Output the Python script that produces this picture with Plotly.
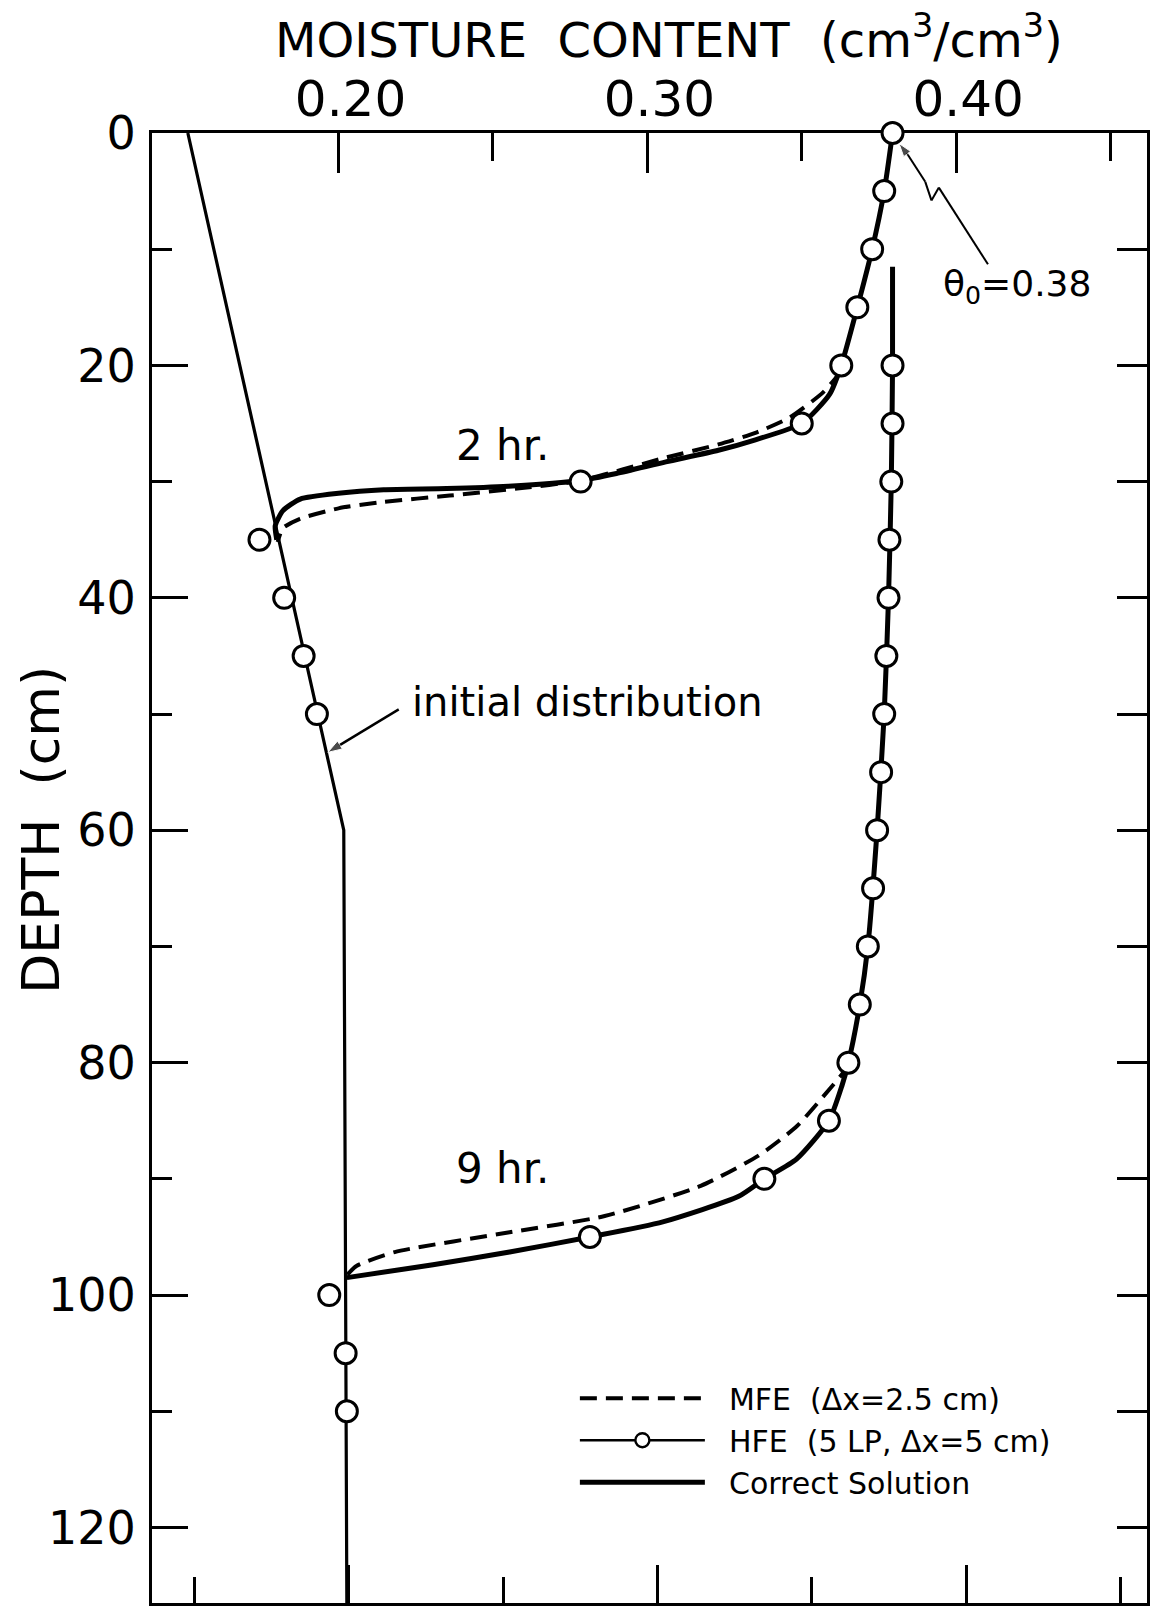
import plotly.graph_objects as go

# ---------------- data ----------------
# initial distribution
init_theta = [0.1512, 0.2017, 0.2027]
init_depth = [0, 60, 127]

# 2 hr - correct solution
ok2_theta = [0.3794, 0.3767, 0.3728, 0.3680, 0.3628, 0.3590, 0.3500, 0.3350, 0.3230,
             0.3060, 0.2900, 0.2784, 0.2550, 0.2350, 0.2146, 0.2000, 0.1876, 0.1820,
             0.1795, 0.1800]
ok2_depth = [0, 5, 10, 15, 20, 22.5, 25, 26.4, 27.3, 28.3, 29.3, 29.9, 30.4, 30.6,
             30.7, 31.0, 31.5, 32.5, 33.8, 35.0]

# 2 hr - MFE
mfe2_theta = [0.3628, 0.3570, 0.3460, 0.3350, 0.3230, 0.3050, 0.2784, 0.2578, 0.2360,
              0.2145, 0.2000, 0.1875, 0.1820, 0.1803]
mfe2_depth = [20.5, 22.3, 24.5, 25.8, 26.8, 28.0, 29.9, 30.6, 31.2, 31.75, 32.3, 33.2,
              34.0, 35.2]

# 2 hr - HFE nodes
hfe2_theta = [0.3794, 0.3767, 0.3728, 0.3680, 0.3628, 0.3500, 0.2784, 0.1744, 0.1824,
              0.1887, 0.1930]
hfe2_depth = [0, 5, 10, 15, 20, 25, 30, 35, 40, 45, 50]

# 9 hr - correct solution
ok9_theta = [0.3794, 0.3794, 0.3790, 0.3781, 0.3767, 0.3744, 0.3714, 0.3688, 0.3651,
             0.3630, 0.3588, 0.3483, 0.3379, 0.3296, 0.3050, 0.2814, 0.2554, 0.2306,
             0.2027]
ok9_depth = [11.5, 20, 30, 40, 50, 60, 70, 75, 80, 82, 85, 88.3, 90, 91.5, 93.7, 95,
             96.3, 97.4, 98.5]

# 9 hr - MFE
mfe9_theta = [0.3651, 0.3633, 0.3570, 0.3483, 0.3360, 0.3173, 0.2862, 0.2554, 0.2182,
              0.2058, 0.2027]
mfe9_depth = [80.0, 80.9, 82.9, 85.5, 88.0, 90.6, 93.2, 94.6, 96.3, 97.5, 98.3]

# 9 hr - HFE nodes
hfe9_theta = [0.3794, 0.3794, 0.3790, 0.3784, 0.3781, 0.3774, 0.3767, 0.3757, 0.3744,
              0.3731, 0.3714, 0.3688, 0.3651, 0.3588, 0.3379, 0.2814, 0.1970, 0.2023,
              0.2027]
hfe9_depth = [20, 25, 30, 35, 40, 45, 50, 55, 60, 65, 70, 75, 80, 85, 90, 95, 100, 105,
              110]

# leader line of the theta_0 label (ends in an arrow at the surface value)
leader_theta = [0.4103, 0.3944, 0.3920, 0.3900, 0.3844, 0.3815]
leader_depth = [11.3, 4.7, 5.8, 4.2, 1.9, 0.9]

# pointer of the "initial distribution" label
pointer_theta = [0.2195, 0.1965]
pointer_depth = [49.6, 53.3]

# axes
x_range = [0.1396, 0.4618]
y_range = [126.5, 0]
x_major = [0.20, 0.30, 0.40]
x_major_text = ["0.20", "0.30", "0.40"]
x_minor_top = [0.25, 0.35, 0.45]
x_major_bottom = [0.2033, 0.3033, 0.4033]
x_minor_bottom = [0.1533, 0.2533, 0.3533, 0.4533]
y_major = [0, 20, 40, 60, 80, 100, 120]
y_major_text = ["0", "20", "40", "60", "80", "100", "120"]
y_minor = [10, 30, 50, 70, 90, 110]
y_right = [10, 20, 30, 40, 50, 60, 70, 80, 90, 100, 110, 120]

FONT = "DejaVu Sans"
BLACK = "black"
NB = "\u00a0"

fig = go.Figure()

# initial distribution
fig.add_trace(go.Scatter(x=init_theta, y=init_depth, mode="lines",
                         line=dict(color=BLACK, width=3.2), showlegend=False,
                         hoverinfo="skip"))

# correct solutions
fig.add_trace(go.Scatter(x=ok2_theta, y=ok2_depth, mode="lines",
                         name=NB * 2 + "Correct Solution",
                         line=dict(color=BLACK, width=5, shape="spline", smoothing=0.6),
                         legendgroup="ok", legendrank=3, showlegend=True))
fig.add_trace(go.Scatter(x=ok9_theta, y=ok9_depth, mode="lines", name="Correct Solution",
                         line=dict(color=BLACK, width=5, shape="spline", smoothing=0.6),
                         legendgroup="ok", showlegend=False))

# MFE
dash_style = dict(color=BLACK, width=4, dash="17px,9px", shape="spline", smoothing=0.6)
fig.add_trace(go.Scatter(x=mfe2_theta, y=mfe2_depth, mode="lines",
                         name=NB * 2 + "MFE" + NB * 2 + "(\u0394x=2.5" + NB + "cm)",
                         line=dash_style, legendgroup="mfe", legendrank=1,
                         showlegend=True))
fig.add_trace(go.Scatter(x=mfe9_theta, y=mfe9_depth, mode="lines", name="MFE",
                         line=dash_style, legendgroup="mfe", showlegend=False))

# leader line for theta_0 and pointer for the initial distribution label
fig.add_trace(go.Scatter(x=leader_theta, y=leader_depth, mode="lines+markers",
                         line=dict(color=BLACK, width=2),
                         marker=dict(symbol="arrow", angleref="previous", color=BLACK,
                                     size=[0, 0, 0, 0, 0, 14]),
                         showlegend=False, hoverinfo="skip", cliponaxis=False))
fig.add_trace(go.Scatter(x=pointer_theta, y=pointer_depth, mode="lines+markers",
                         line=dict(color=BLACK, width=2.4),
                         marker=dict(symbol="arrow", angleref="previous", color=BLACK,
                                     size=[0, 15]),
                         showlegend=False, hoverinfo="skip"))

# HFE nodes (drawn on the overlaid top/right axes, which share the same ranges)
marker_style = dict(symbol="circle", size=21, color="white",
                    line=dict(color=BLACK, width=3))
fig.add_trace(go.Scatter(x=hfe2_theta, y=hfe2_depth, mode="markers", name="HFE",
                         marker=marker_style, legendgroup="hfe", showlegend=False,
                         cliponaxis=False, xaxis="x2", yaxis="y2"))
fig.add_trace(go.Scatter(x=hfe9_theta, y=hfe9_depth, mode="markers", name="HFE",
                         marker=marker_style, legendgroup="hfe", showlegend=False,
                         cliponaxis=False, xaxis="x2", yaxis="y2"))
# legend entry for HFE (line with circles)
fig.add_trace(go.Scatter(x=[None], y=[None], mode="lines+markers",
                         name=NB * 2 + "HFE" + NB * 2 + "(5" + NB + "LP," + NB +
                         "\u0394x=5" + NB + "cm)",
                         line=dict(color=BLACK, width=2.5),
                         marker=dict(symbol="circle", size=14, color="white",
                                     line=dict(color=BLACK, width=2.4)),
                         legendgroup="hfe", legendrank=2, showlegend=True,
                         xaxis="x2", yaxis="y2"))

axis_common = dict(showgrid=False, zeroline=False, showline=True, linecolor=BLACK,
                   linewidth=3.2, ticks="inside", tickcolor=BLACK, tickwidth=2.8,
                   layer="below traces")

fig.update_layout(
    width=1151, height=1609,
    margin=dict(l=152, r=4, t=133, b=6),
    paper_bgcolor="white", plot_bgcolor="white",
    font=dict(family=FONT, color=BLACK),
    xaxis=dict(range=x_range, tickmode="array", tickvals=x_major_bottom, ticklen=38,
               showticklabels=False,
               minor=dict(tickmode="array", tickvals=x_minor_bottom, ticklen=26,
                          ticks="inside", tickcolor=BLACK, tickwidth=2.8),
               **axis_common),
    xaxis2=dict(range=x_range, overlaying="x", side="top", anchor="y2",
                tickmode="array", tickvals=x_major, ticktext=x_major_text, ticklen=40,
                showticklabels=True, ticklabelstandoff=-6, ticklabelshift=12,
                tickfont=dict(family=FONT, size=50, color=BLACK),
                minor=dict(tickmode="array", tickvals=x_minor_top, ticklen=28,
                           ticks="inside", tickcolor=BLACK, tickwidth=2.8),
                **axis_common),
    yaxis=dict(range=y_range, tickmode="array", tickvals=y_major, ticktext=y_major_text,
               ticklen=36, ticklabelstandoff=4,
               tickfont=dict(family=FONT, size=46, color=BLACK),
               minor=dict(tickmode="array", tickvals=y_minor, ticklen=20,
                          ticks="inside", tickcolor=BLACK, tickwidth=2.8),
               **axis_common),
    yaxis2=dict(range=y_range, overlaying="y", side="right", anchor="x2",
                tickmode="array", tickvals=y_right, ticklen=30, showticklabels=False,
                **axis_common),
    legend=dict(x=0.425, y=0.157, xanchor="left", yanchor="top",
                bgcolor="rgba(0,0,0,0)", itemwidth=125,
                font=dict(family=FONT, size=30, color=BLACK),
                tracegroupgap=0),
    showlegend=True,
)

annotations = [
    dict(text="MOISTURE\u00a0 CONTENT\u00a0 (cm<sup>3</sup>/cm<sup>3</sup>)",
         xref="paper", yref="paper", x=0.5196, y=1.0650, xanchor="center",
         yanchor="middle", showarrow=False, font=dict(family=FONT, size=48)),
    dict(text="DEPTH\u00a0 (cm)", xref="paper", yref="paper", x=-0.1116, y=0.526,
         xanchor="center", yanchor="middle", textangle=-90, showarrow=False,
         font=dict(family=FONT, size=52)),
    dict(text="2 hr.", xref="x", yref="y", x=0.2532, y=26.9, showarrow=False,
         font=dict(family=FONT, size=42)),
    dict(text="9 hr.", xref="x", yref="y", x=0.2532, y=89.1, showarrow=False,
         font=dict(family=FONT, size=42)),
    dict(text="initial distribution", xref="x", yref="y", x=0.2233, y=49.0,
         xanchor="left", yanchor="middle", showarrow=False,
         font=dict(family=FONT, size=40)),
    dict(text="\u03b8<sub>0</sub>=0.38", xref="x", yref="y", x=0.4196, y=13.2,
         showarrow=False, font=dict(family=FONT, size=36)),
]
fig.update_layout(annotations=annotations)

fig.write_html("out.html")
